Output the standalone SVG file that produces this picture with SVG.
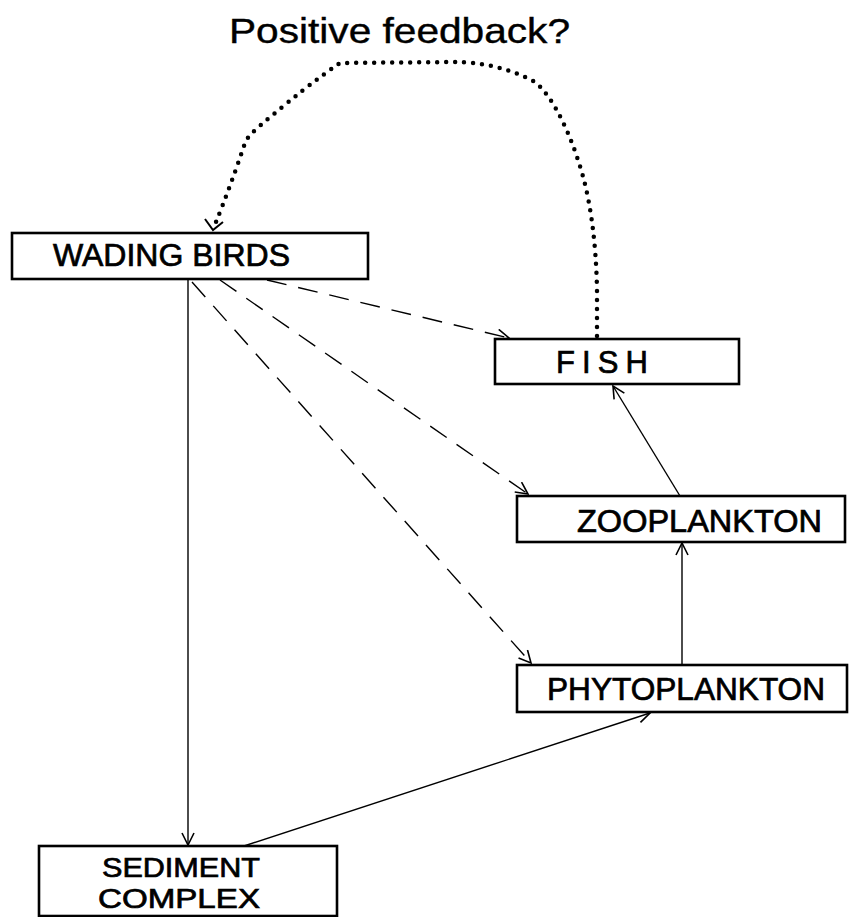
<svg xmlns="http://www.w3.org/2000/svg" width="849" height="917" viewBox="0 0 849 917">
<defs>
<marker id="arr" viewBox="0 0 14 14" refX="13" refY="7" markerWidth="14" markerHeight="14" markerUnits="userSpaceOnUse" orient="auto">
<path d="M1,1 L13,7 L1,13" fill="none" stroke="#000" stroke-width="1.6"/>
</marker>
</defs>
<style>
.box{fill:#fff;stroke:#000;stroke-width:2.6}
.lbl{font-family:"Liberation Sans",Arial,sans-serif;font-size:31px;fill:#000;stroke:#000;stroke-width:0.7}
.ln{fill:none;stroke:#000;stroke-width:1.4}
.dash{stroke-dasharray:20 12}
.dot{fill:none;stroke:#000;stroke-width:4.5;stroke-linecap:round;stroke-dasharray:0 9}
</style>
<rect width="849" height="917" fill="#fff"/>
<text x="229" y="43" class="lbl" style="font-size:35px;stroke-width:0.4" textLength="341" lengthAdjust="spacingAndGlyphs">Positive feedback?</text>
<g id="connectors">
<line class="ln" x1="188" y1="279" x2="188" y2="845" marker-end="url(#arr)"/>
<line class="ln" x1="244" y1="846" x2="650" y2="713" marker-end="url(#arr)"/>
<line class="ln" x1="682" y1="665" x2="682" y2="543" marker-end="url(#arr)"/>
<line class="ln" x1="680" y1="496" x2="613" y2="386" marker-end="url(#arr)"/>
<line class="ln dash" x1="267" y1="280" x2="509" y2="338" marker-end="url(#arr)"/>
<line class="ln dash" x1="220" y1="280" x2="528" y2="494" marker-end="url(#arr)"/>
<line class="ln dash" x1="192" y1="282" x2="531" y2="663" marker-end="url(#arr)"/>
<path class="dot" d="M597,336 L597,290 C596,240 590,195 578,160 C565,120 548,92 535,82 C510,68 480,62 455,62 L340,63 C315,80 290,100 255,130 L246,140 C236,170 225,200 216,222"/>
<path d="M205,219 L213,230 L223,222" fill="none" stroke="#000" stroke-width="2"/>
</g>
<g id="wading-birds">
<rect class="box" x="12" y="233" width="356" height="46"/>
<text class="lbl" x="53" y="266" textLength="237" lengthAdjust="spacingAndGlyphs">WADING BIRDS</text>
</g>
<g id="fish">
<rect class="box" x="495" y="339" width="244" height="45"/>
<text class="lbl" x="556" y="373" textLength="92" lengthAdjust="spacing">FISH</text>
</g>
<g id="zooplankton">
<rect class="box" x="517" y="496" width="328" height="46"/>
<text class="lbl" x="577" y="532" textLength="245" lengthAdjust="spacingAndGlyphs">ZOOPLANKTON</text>
</g>
<g id="phytoplankton">
<rect class="box" x="517" y="665" width="330" height="47"/>
<text class="lbl" x="547" y="700" textLength="278" lengthAdjust="spacingAndGlyphs">PHYTOPLANKTON</text>
</g>
<g id="sediment-complex">
<rect class="box" x="39" y="846" width="298" height="70"/>
<text class="lbl" x="102" y="877" style="font-size:27px" textLength="158" lengthAdjust="spacingAndGlyphs">SEDIMENT</text>
<text class="lbl" x="98" y="908" style="font-size:27px" textLength="162" lengthAdjust="spacingAndGlyphs">COMPLEX</text>
</g>
</svg>
